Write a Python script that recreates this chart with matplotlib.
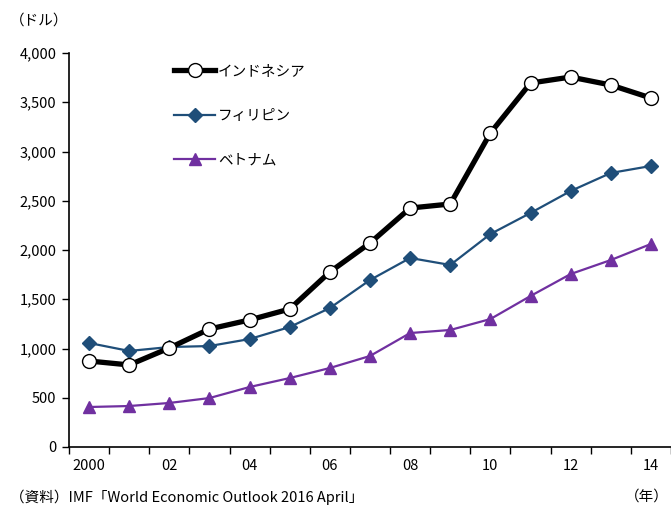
import matplotlib
matplotlib.use("Agg")
import matplotlib.pyplot as plt
import numpy as np

plt.rcParams['font.family'] = ['Noto Sans CJK JP', 'DejaVu Sans']

years = list(range(2000, 2015))
year_labels = ['2000', '', '02', '', '04', '', '06', '', '08', '', '10', '', '12', '', '14']

indonesia = [873, 833, 1005, 1198, 1290, 1401, 1777, 2071, 2426, 2467, 3188, 3695, 3756, 3675, 3543]
philippines = [1056, 975, 1015, 1025, 1096, 1218, 1411, 1695, 1919, 1848, 2162, 2376, 2599, 2782, 2853]
vietnam = [406, 416, 447, 497, 609, 700, 802, 924, 1157, 1188, 1299, 1533, 1756, 1898, 2061]

series_names = ['インドネシア', 'フィリピン', 'ベトナム']

fig = plt.figure(figsize=(6.71, 5.05), dpi=100)
ax = fig.add_axes([69 / 671, 1 - 447 / 505, 1 - 69 / 671, (447 - 53) / 505])

x = np.arange(len(years))
ax.plot(x, indonesia, color='black', lw=3.8, marker='o', ms=10,
        mfc='white', mec='black', mew=1.0, label=series_names[0], zorder=3)
ax.plot(x, philippines, color='#1F4E79', lw=1.6, marker='D', ms=7,
        mfc='#1F4E79', mec='#1F4E79', label=series_names[1], zorder=2)
ax.plot(x, vietnam, color='#7030A0', lw=1.6, marker='^', ms=9,
        mfc='#7030A0', mec='#7030A0', label=series_names[2], zorder=2)

ax.set_xlim(-0.5, 14.5)
ax.set_ylim(0, 4000)
ax.set_yticks(np.arange(0, 4001, 500))
ax.set_yticklabels([f'{v:,}' for v in range(0, 4001, 500)], fontsize=10.5)

ax.set_xticks(x)
ax.set_xticklabels(year_labels, fontsize=10.5)
ax.set_xticks(np.arange(-0.5, 15, 1), minor=True)
ax.tick_params(axis='x', which='major', length=0, pad=9)
ax.tick_params(axis='x', which='minor', length=5, direction='out', width=1)
ax.tick_params(axis='y', length=5, direction='out', width=1, pad=4)

for side in ['top', 'right']:
    ax.spines[side].set_visible(False)
ax.spines['left'].set_linewidth(1.2)
ax.spines['bottom'].set_linewidth(1.2)

leg = ax.legend(loc='upper left', bbox_to_anchor=(0.153, 1.006), frameon=False,
                fontsize=10.5, handlelength=2.8, handletextpad=0.2,
                labelspacing=2.12)

fig.text(10 / 671, 1 - 21 / 505, '（ドル）', fontsize=10.5, va='center', ha='left')
fig.text(10 / 671, 1 - 497 / 505, '（資料）IMF「World Economic Outlook 2016 April」',
         fontsize=10.5, va='center', ha='left')
fig.text(669 / 671, 1 - 497 / 505, '（年）', fontsize=10.5, va='center', ha='right')

fig.savefig('out.png', dpi=100)
